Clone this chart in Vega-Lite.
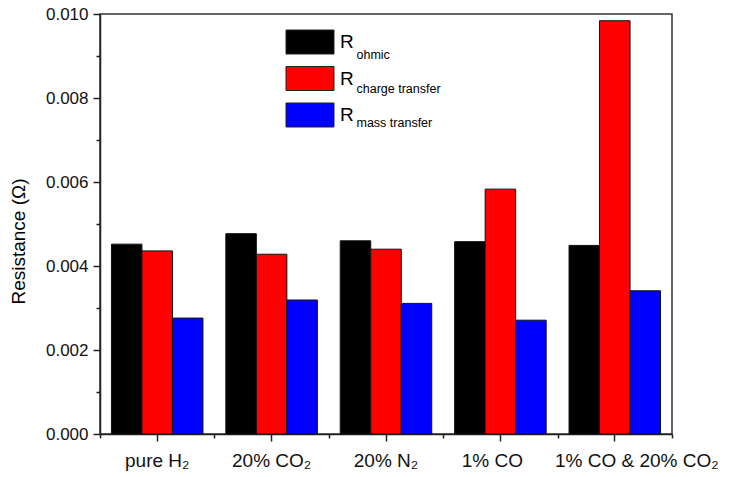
{
  "$schema": "https://vega.github.io/schema/vega-lite/v6.json",
  "width": 572,
  "height": 420,
  "autosize": "none",
  "padding": {"left": 100, "top": 14, "right": 62, "bottom": 43},
  "config": {
    "font": "Liberation Sans",
    "view": {"stroke": "#333333", "strokeWidth": 1.5},
    "axis": {"domainColor": "#222222", "domainWidth": 1.5, "tickColor": "#222222", "tickWidth": 1.5, "grid": false, "labelColor": "#111111"}
  },
  "data": {
    "values": [
      {"gas": "pure H₂", "series": "ohmic", "value": 0.00452},
      {"gas": "pure H₂", "series": "charge transfer", "value": 0.00436},
      {"gas": "pure H₂", "series": "mass transfer", "value": 0.00276},
      {"gas": "20% CO₂", "series": "ohmic", "value": 0.00477},
      {"gas": "20% CO₂", "series": "charge transfer", "value": 0.00428},
      {"gas": "20% CO₂", "series": "mass transfer", "value": 0.00319},
      {"gas": "20% N₂", "series": "ohmic", "value": 0.00460},
      {"gas": "20% N₂", "series": "charge transfer", "value": 0.00440},
      {"gas": "20% N₂", "series": "mass transfer", "value": 0.00311},
      {"gas": "1% CO", "series": "ohmic", "value": 0.00458},
      {"gas": "1% CO", "series": "charge transfer", "value": 0.00583},
      {"gas": "1% CO", "series": "mass transfer", "value": 0.00271},
      {"gas": "1% CO & 20% CO₂", "series": "ohmic", "value": 0.00449},
      {"gas": "1% CO & 20% CO₂", "series": "charge transfer", "value": 0.00984},
      {"gas": "1% CO & 20% CO₂", "series": "mass transfer", "value": 0.00341}
    ]
  },
  "layer": [
    {
      "mark": {"type": "bar", "stroke": "#111111", "strokeWidth": 1},
      "encoding": {
        "x": {
          "field": "gas", "type": "nominal",
          "sort": ["pure H₂", "20% CO₂", "20% N₂", "1% CO", "1% CO & 20% CO₂"],
          "scale": {"paddingInner": 0, "paddingOuter": 0},
          "axis": {
            "title": null, "labelAngle": 0, "labelFontSize": 19, "tickSize": 7, "labelPadding": 10,
            "labelOffset": {"condition": [{"test": "datum.value === '1% CO'", "value": -8}, {"test": "datum.value === '1% CO & 20% CO₂'", "value": 22}], "value": 0}
          }
        },
        "xOffset": {
          "field": "series", "type": "nominal",
          "sort": ["ohmic", "charge transfer", "mass transfer"],
          "scale": {"paddingInner": 0, "paddingOuter": 0.375}
        },
        "y": {
          "field": "value", "type": "quantitative",
          "scale": {"domain": [0, 0.01], "nice": false},
          "axis": {
            "title": "Resistance (Ω)", "titleFontSize": 19, "titleFontWeight": "normal",
            "titleX": -82, "titleY": 227, "titleBaseline": "middle", "titleAlign": "center",
            "values": [0, 0.001, 0.002, 0.003, 0.004, 0.005, 0.006, 0.007, 0.008, 0.009, 0.01],
            "labelExpr": "round(datum.value*1000) % 2 === 0 ? format(datum.value, '.3f') : ''",
            "labelFontSize": 17,
            "tickSize": {"condition": {"test": "round(datum.value*1000) % 2 !== 0", "value": 4}, "value": 7},
            "labelPadding": 5
          }
        },
        "color": {
          "field": "series", "type": "nominal",
          "sort": ["ohmic", "charge transfer", "mass transfer"],
          "scale": {"domain": ["ohmic", "charge transfer", "mass transfer"], "range": ["#000000", "#ff0000", "#0000ff"]},
          "legend": {
            "orient": "none", "legendX": 197.5, "legendY": 15.5, "title": null,
            "symbolType": "M-2,-1H2V1H-2Z", "symbolSize": 576,
            "symbolStrokeColor": "#222222", "symbolStrokeWidth": 1, "symbolOpacity": 1,
            "labelExpr": "'R'", "labelFontSize": 19, "labelOffset": 17.5, "rowPadding": 7.5
          }
        }
      }
    },
    {
      "mark": {"type": "point", "opacity": 0},
      "encoding": {
        "x": {
          "field": "gas", "type": "nominal",
          "sort": ["pure H₂", "20% CO₂", "20% N₂", "1% CO", "1% CO & 20% CO₂"],
          "axis": {"orient": "bottom", "offset": 0, "title": null, "labels": false, "domain": false, "tickBand": "extent", "tickSize": 4, "tickColor": "#222222", "tickWidth": 1.5}
        },
        "shape": {
          "field": "series", "type": "nominal",
          "sort": ["ohmic", "charge transfer", "mass transfer"],
          "legend": {
            "orient": "none", "legendX": 244, "legendY": 35, "title": null,
            "symbolSize": 1, "symbolOpacity": 0, "symbolStrokeWidth": 0,
            "labelFontSize": 12.5, "labelOffset": 0, "rowPadding": 21
          }
        }
      }
    }
  ],
  "resolve": {"axis": {"x": "independent"}}
}
